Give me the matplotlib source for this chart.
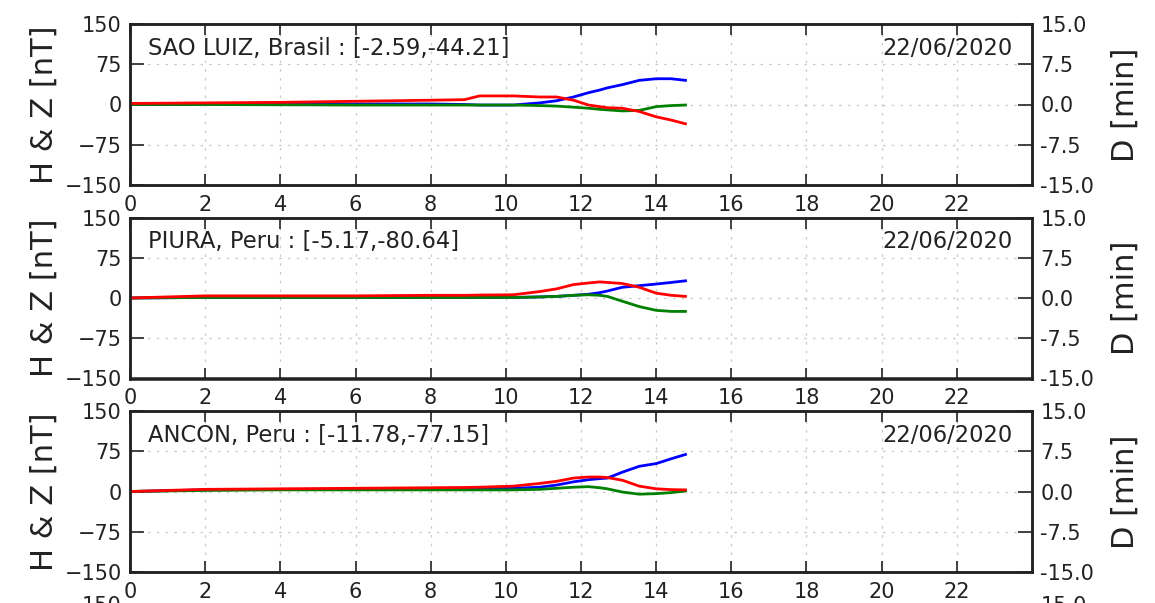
import numpy as np
import matplotlib
matplotlib.use("Agg")
import matplotlib.pyplot as plt

# hours (UT) for each station
hours = [0, 2, 4, 6, 8, 8.9, 9.3, 10.2, 10.9, 11.35, 11.8, 12.2, 12.5, 12.7, 13.1, 13.55, 14.0, 14.4, 14.78]

stations = ["SAO LUIZ, Brasil : [-2.59,-44.21]",
            "PIURA, Peru : [-5.17,-80.64]",
            "ANCON, Peru : [-11.78,-77.15]"]
date_label = "22/06/2020"

# H [nT]
h_sao = [0, 0.5, 1, 1, 1, 0, -1, -1, 3, 7, 14, 22, 27, 31, 37, 45, 48, 48, 45]
h_piu = [0, 1, 1, 1, 1, 1, 1, 1, 2, 3, 5, 7, 10, 13, 20, 23, 26, 29, 32]
h_anc = [0, 3, 4, 4, 5, 5, 5, 6, 8, 12, 18, 22, 24, 25, 36, 47, 52, 61, 69]
# Z [nT]
z_sao = [0, 0, -0.5, -1, -1, -1, -1, -1, -2, -3, -5, -7, -9, -10, -12, -11, -4, -2, -1]
z_piu = [0, 1, 1, 1, 1, 1, 1, 1, 2, 3, 5, 6, 5, 3, -6, -16, -23, -25, -25]
z_anc = [0, 2, 3, 3, 3, 3, 3, 3, 4, 6, 8, 9, 7, 5, -1, -5, -4, -2, 1]
# D [min]
d_sao = [0.2, 0.3, 0.4, 0.6, 0.8, 0.9, 1.6, 1.6, 1.4, 1.4, 0.8, -0.1, -0.4, -0.6, -0.7, -1.3, -2.3, -2.9, -3.6]
d_piu = [0, 0.4, 0.4, 0.4, 0.5, 0.5, 0.55, 0.6, 1.2, 1.7, 2.5, 2.8, 3.0, 2.9, 2.7, 2.0, 0.9, 0.5, 0.3]
d_anc = [0, 0.4, 0.5, 0.6, 0.7, 0.75, 0.8, 1.0, 1.5, 1.9, 2.5, 2.7, 2.7, 2.6, 2.1, 1.0, 0.5, 0.35, 0.3]

H = [h_sao, h_piu, h_anc]
Z = [z_sao, z_piu, z_anc]
D = [d_sao, d_piu, d_anc]

hz_ticks = [-150, -75, 0, 75, 150]
d_ticks = [-15, -7.5, 0, 7.5, 15]
d_ticklabels = ["-15.0", "-7.5", "0.0", "7.5", "15.0"]

W, HGT = 1155, 603
fig = plt.figure(figsize=(W / 100, HGT / 100), dpi=100)

left, width = 130, 902
tops = [24, 217.5, 411, 604.5]
ph = 161

grid_kw = dict(color="#c8c8c8", linestyle=(0, (2, 5)), linewidth=0.9)
ink = "#222222"

for i, top in enumerate(tops):
    ax = fig.add_axes([left / W, 1 - (top + ph) / HGT, width / W, ph / HGT])
    ax2 = ax.twinx()
    last = i >= len(stations)
    if not last:
        ax.plot(hours, H[i], color="blue", lw=2)
        ax.plot(hours, Z[i], color="green", lw=2)
        ax2.plot(hours, D[i], color="red", lw=2)
        ax.text(0.02, 0.85, stations[i], transform=ax.transAxes,
                fontsize=16.3, color=ink, va="center", ha="left")
        ax.text(0.978, 0.85, date_label, transform=ax.transAxes,
                fontsize=16.3, color=ink, va="center", ha="right")
        ax.set_ylabel("H & Z [nT]", fontsize=22, color=ink, labelpad=4)
        ax2.set_ylabel("D [min]", fontsize=22, color=ink, labelpad=12)
    ax.set_xlim(0, 24)
    ax.set_ylim(-150, 150)
    ax2.set_ylim(-15, 15)
    ax.set_xticks(np.arange(0, 24, 2))
    ax.set_yticks(hz_ticks)
    ax2.set_yticks(d_ticks)
    if last:
        # only the top labels of the next panel peek in at the bottom edge
        ax.set_yticklabels([""] * 4 + [str(hz_ticks[-1])])
        ax2.set_yticklabels([""] * 4 + [d_ticklabels[-1]])
    else:
        ax2.set_yticklabels(d_ticklabels)
    ax.grid(True, **grid_kw)
    ax.tick_params(axis="x", direction="in", top=True, length=8, width=1.2,
                   labelsize=15, pad=7, colors=ink, labelbottom=not last)
    ax.tick_params(axis="y", direction="in", length=10, width=1.2,
                   labelsize=15, pad=6, colors=ink)
    ax2.tick_params(axis="y", direction="in", length=10, width=1.2,
                    labelsize=15, pad=6, colors=ink)
    for a in (ax, ax2):
        for s in a.spines.values():
            s.set_linewidth(1.8)
            s.set_color(ink)

fig.savefig("out.png", dpi=100)
